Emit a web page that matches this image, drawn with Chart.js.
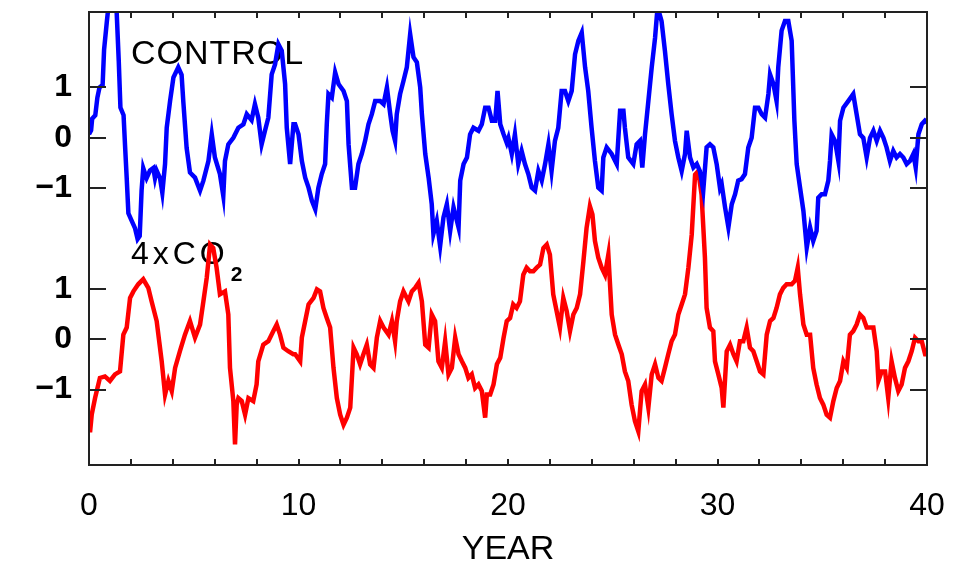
<!DOCTYPE html>
<html>
<head>
<meta charset="utf-8">
<title>CONTROL vs 4xCO2</title>
<script src="https://cdn.jsdelivr.net/npm/chart.js@4.4.1/dist/chart.umd.min.js"></script>
<style>
  html, body { margin: 0; padding: 0; background: #fff; overflow: hidden; }
  #chart { display: block; }
</style>
</head>
<body>
<canvas id="chart" width="967" height="568"></canvas>
<script>
// --- data (years, anomaly) ---
const ctrlYears = [
  0.00, 0.10, 0.15, 0.30, 0.40, 0.50, 0.65, 0.72, 0.85, 0.95, 1.10, 1.30, 1.42, 1.50, 1.65, 1.72, 1.80, 1.88,
  2.04, 2.20, 2.32, 2.42, 2.51, 2.59, 2.75, 2.91, 3.07, 3.15, 3.23, 3.39, 3.50, 3.63, 3.71, 3.87, 4.03, 4.26,
  4.42, 4.50, 4.66, 4.82, 5.06, 5.30, 5.46, 5.70, 5.86, 6.01, 6.25, 6.41, 6.49, 6.65, 6.89, 7.13, 7.37, 7.53,
  7.76, 7.92, 8.08, 8.24, 8.40, 8.56, 8.72, 8.88, 9.04, 9.20, 9.36, 9.44, 9.60, 9.76, 9.84, 10.00, 10.16, 10.32,
  10.48, 10.64, 10.80, 10.95, 11.11, 11.27, 11.35, 11.43, 11.59, 11.75, 11.91, 12.15, 12.31, 12.39, 12.55, 12.70,
  12.86, 13.02, 13.18, 13.34, 13.50, 13.66, 13.90, 14.06, 14.22, 14.38, 14.49, 14.61, 14.69, 14.85, 15.01, 15.17,
  15.33, 15.49, 15.65, 15.81, 15.89, 16.05, 16.21, 16.36, 16.44, 16.60, 16.76, 16.92, 17.08, 17.24, 17.40, 17.64,
  17.72, 17.88, 18.04, 18.19, 18.35, 18.59, 18.75, 18.91, 19.07, 19.23, 19.39, 19.50, 19.63, 19.79, 19.94, 20.02,
  20.18, 20.33, 20.49, 20.65, 20.81, 20.97, 21.13, 21.29, 21.45, 21.61, 21.77, 21.93, 22.08, 22.24, 22.40, 22.56,
  22.72, 22.88, 23.04, 23.20, 23.36, 23.52, 23.68, 23.83, 23.99, 24.15, 24.31, 24.47, 24.55, 24.71, 24.95, 25.19,
  25.35, 25.51, 25.58, 25.74, 25.98, 26.14, 26.30, 26.41, 26.54, 26.70, 26.86, 27.02, 27.14, 27.33, 27.49, 27.65,
  27.81, 27.97, 28.13, 28.29, 28.45, 28.53, 28.69, 28.85, 29.01, 29.16, 29.32, 29.48, 29.64, 29.80, 29.96, 30.12,
  30.20, 30.36, 30.52, 30.68, 30.84, 30.99, 31.15, 31.31, 31.47, 31.63, 31.79, 31.95, 32.11, 32.27, 32.43, 32.51,
  32.67, 32.82, 32.90, 33.06, 33.22, 33.38, 33.54, 33.67, 33.78, 33.94, 34.10, 34.26, 34.42, 34.57, 34.73, 34.81,
  34.97, 35.13, 35.29, 35.37, 35.45, 35.61, 35.77, 35.85, 36.01, 36.24, 36.48, 36.64, 36.80, 36.96, 37.12, 37.28,
  37.44, 37.60, 37.76, 37.92, 38.07, 38.23, 38.39, 38.55, 38.71, 38.87, 39.03, 39.19, 39.35, 39.46, 39.59, 39.75,
  39.90, 40.00
];
const ctrlValues = [
  0.07, 0.15, 0.38, 0.45, 0.80, 1.00, 1.05, 1.75, 2.30, 2.70, 2.80, 2.70, 1.53, 0.60, 0.45, -0.15, -0.80, -1.50,
  -1.65, -1.80, -2.01, -1.95, -1.05, -0.60, -0.80, -0.65, -0.60, -0.80, -0.65, -0.80, -1.09, -0.52, 0.20, 0.73, 1.20, 1.40,
  1.25, 0.73, -0.20, -0.69, -0.79, -1.05, -0.85, -0.46, 0.07, -0.39, -0.72, -1.15, -0.46, -0.13, 0.00, 0.20, 0.27, 0.47,
  0.35, 0.67, 0.40, -0.13, 0.14, 0.40, 1.26, 1.46, 1.86, 1.73, 1.07, 0.20, -0.52, 0.27, 0.27, 0.07, -0.46, -0.79,
  -0.99, -1.25, -1.42, -0.99, -0.72, -0.52, 0.27, 0.87, 0.80, 1.30, 1.07, 0.93, 0.73, -0.13, -0.99, -0.99,
  -0.52, -0.32, -0.06, 0.27, 0.47, 0.73, 0.73, 0.67, 1.00, 0.47, 0.14, -0.06, 0.47, 0.87, 1.13, 1.40,
  2.06, 1.60, 1.50, 1.00, 0.47, -0.32, -0.79, -1.32, -1.91, -1.65, -2.15, -1.58, -1.32, -1.85, -1.38, -1.78,
  -0.85, -0.52, -0.39, 0.07, 0.20, 0.14, 0.27, 0.60, 0.60, 0.34, 0.34, 0.93, 0.27, 0.07, -0.10, 0.00,
  -0.32, 0.07, -0.52, -0.26, -0.52, -0.72, -0.99, -1.05, -0.66, -0.85, -0.52, -0.13, -0.66, -0.06, 0.20, 0.93,
  0.93, 0.73, 0.93, 1.66, 1.93, 2.09, 1.40, 0.93, 0.20, -0.46, -0.99, -1.05, -0.39, -0.19, -0.32, -0.52,
  0.54, 0.54, 0.20, -0.39, -0.52, -0.13, -0.06, -0.59, 0.07, 0.73, 1.40, 1.99, 2.60, 2.32, 1.73, 1.07,
  0.47, -0.06, -0.39, -0.66, -0.32, 0.14, -0.39, -0.59, -0.52, -0.66, -1.05, -0.19, -0.13, -0.19, -0.52, -1.00,
  -0.92, -1.38, -1.78, -1.32, -1.12, -0.85, -0.82, -0.72, -0.19, 0.00, 0.60, 0.60, 0.47, 0.40, 0.87, 1.26,
  1.07, 0.73, 1.40, 2.13, 2.32, 2.32, 1.93, 0.34, -0.52, -0.99, -1.45, -2.18, -1.78, -2.05, -1.85, -1.19,
  -1.12, -1.12, -0.85, -0.46, 0.07, -0.06, -0.46, 0.34, 0.60, 0.73, 0.87, 0.47, 0.07, 0.00, -0.39, 0.00,
  0.14, -0.06, 0.14, 0.00, -0.19, -0.46, -0.26, -0.39, -0.32, -0.39, -0.52, -0.46, -0.32, -0.59, 0.07, 0.27,
  0.34, 0.30
];

const co2Years = [
  0.00, 0.05, 0.13, 0.29, 0.52, 0.76, 1.00, 1.24, 1.48, 1.64, 1.80, 1.96, 2.12, 2.35, 2.59, 2.83, 2.99, 3.23,
  3.47, 3.63, 3.79, 3.95, 4.11, 4.34, 4.58, 4.82, 5.06, 5.30, 5.46, 5.62, 5.78, 5.93, 6.09, 6.25, 6.49, 6.65,
  6.73, 6.89, 6.97, 7.05, 7.13, 7.29, 7.45, 7.61, 7.84, 8.00, 8.08, 8.32, 8.56, 8.80, 8.96, 9.12, 9.28, 9.51,
  9.75, 9.84, 10.08, 10.16, 10.32, 10.48, 10.72, 10.88, 11.03, 11.19, 11.35, 11.51, 11.67, 11.83, 11.99, 12.15,
  12.31, 12.47, 12.63, 12.78, 12.94, 13.10, 13.26, 13.42, 13.58, 13.74, 13.90, 14.06, 14.30, 14.46, 14.61, 14.69,
  14.85, 15.01, 15.25, 15.41, 15.57, 15.73, 15.89, 16.05, 16.21, 16.36, 16.52, 16.68, 16.84, 17.00, 17.16, 17.32,
  17.48, 17.64, 17.80, 17.96, 18.11, 18.27, 18.43, 18.59, 18.75, 18.91, 18.99, 19.15, 19.31, 19.47, 19.63, 19.79,
  19.94, 20.10, 20.25, 20.41, 20.57, 20.73, 20.89, 21.05, 21.21, 21.37, 21.53, 21.69, 21.85, 22.00, 22.16, 22.32,
  22.48, 22.64, 22.80, 22.96, 23.12, 23.28, 23.44, 23.60, 23.75, 23.91, 24.03, 24.15, 24.31, 24.47, 24.63, 24.79,
  24.95, 25.11, 25.27, 25.43, 25.58, 25.74, 25.90, 26.06, 26.22, 26.30, 26.38, 26.54, 26.70, 26.86, 27.02, 27.18,
  27.33, 27.49, 27.65, 27.81, 27.97, 28.13, 28.29, 28.45, 28.61, 28.77, 28.93, 29.08, 29.24, 29.40, 29.48, 29.64,
  29.80, 29.88, 30.04, 30.20, 30.28, 30.44, 30.60, 30.76, 30.91, 31.07, 31.23, 31.39, 31.55, 31.71, 31.87, 32.03,
  32.19, 32.35, 32.51, 32.67, 32.82, 32.98, 33.14, 33.30, 33.54, 33.70, 33.83, 33.94, 34.10, 34.26, 34.42, 34.57,
  34.73, 34.89, 35.05, 35.21, 35.37, 35.53, 35.69, 35.85, 36.01, 36.17, 36.32, 36.48, 36.64, 36.80, 36.96, 37.12,
  37.28, 37.44, 37.60, 37.68, 37.84, 38.00, 38.15, 38.31, 38.47, 38.63, 38.79, 38.95, 39.11, 39.27, 39.43, 39.59,
  39.75, 39.91, 40.00
];
const co2Values = [
  -1.60, -1.85, -1.50, -1.17, -0.77, -0.74, -0.83, -0.70, -0.64, 0.09, 0.23, 0.82, 0.95, 1.09, 1.19, 1.02, 0.75, 0.36,
  -0.44, -1.10, -0.83, -1.03, -0.57, -0.24, 0.09, 0.36, 0.03, 0.29, 0.75, 1.22, 1.88, 1.81, 1.42, 0.89, 0.95, 0.49,
  -0.57, -1.23, -2.09, -1.30, -1.17, -1.23, -1.50, -1.17, -1.23, -0.90, -0.44, -0.11, -0.04, 0.16, 0.29, 0.09, -0.17, -0.24,
  -0.30, -0.30, -0.44, 0.03, 0.36, 0.69, 0.82, 0.99, 0.95, 0.62, 0.42, 0.23, -0.57, -1.17, -1.50, -1.70,
  -1.56, -1.36, -0.17, -0.30, -0.50, -0.30, -0.11, -0.50, -0.57, 0.03, 0.36, 0.23, 0.09, 0.36, -0.04, 0.36,
  0.75, 0.95, 0.75, 0.95, 1.02, 1.12, 0.75, -0.11, -0.17, 0.49, 0.36, -0.44, -0.57, -0.04, -0.70, -0.57,
  0.03, -0.30, -0.44, -0.57, -0.77, -0.70, -0.97, -0.90, -1.03, -1.56, -1.10, -1.10, -0.90, -0.50, -0.37, 0.03,
  0.36, 0.42, 0.69, 0.62, 0.75, 1.28, 1.42, 1.35, 1.35, 1.42, 1.48, 1.81, 1.88, 1.68, 0.89, 0.56,
  0.23, 0.82, 0.56, 0.16, 0.49, 0.62, 0.89, 1.55, 2.21, 2.64, 2.48, 1.95, 1.62, 1.42, 1.28, 1.68,
  0.49, 0.09, -0.11, -0.30, -0.64, -0.83, -1.30, -1.63, -1.83, -1.43, -1.03, -0.90, -1.36, -0.70, -0.50, -0.77,
  -0.83, -0.57, -0.30, -0.04, 0.09, 0.49, 0.69, 0.89, 1.42, 2.08, 3.27, 3.34, 2.87, 1.62, 0.62, 0.23,
  0.16, -0.44, -0.70, -0.97, -1.36, -0.24, -0.11, -0.30, -0.44, -0.04, -0.04, 0.23, -0.17, -0.24, -0.44, -0.64,
  -0.70, 0.09, 0.36, 0.42, 0.62, 0.89, 1.02, 1.09, 1.09, 1.16, 1.42, 0.89, 0.29, 0.09, 0.09, -0.57,
  -0.90, -1.17, -1.30, -1.50, -1.56, -1.23, -0.97, -0.83, -0.44, -0.57, 0.09, 0.16, 0.29, 0.49, 0.42, 0.23,
  0.23, 0.23, -0.24, -0.83, -0.64, -0.64, -1.17, -0.44, -0.77, -1.03, -0.90, -0.57, -0.44, -0.24, 0.03, -0.04,
  -0.04, -0.30, -0.30
];

// axis ticks and labels
const xTickValues = [0, 10, 20, 30, 40];
const xTickLabels = ['0', '10', '20', '30', '40'];
const xMinorStep = 2;
const yTickValues = [-1, 0, 1];
const yTickLabels = ['\u22121', '0', '1'];

// the CONTROL curve sits 4 units above the 4xCO2 curve on one shared axis
const CONTROL_OFFSET = 4;

const FONT = '"Liberation Sans", Arial, Helvetica, sans-serif';

function toPoints(xs, ys, shift) {
  return xs.map((x, i) => ({ x: x, y: ys[i] + shift }));
}

// frame, inward tick marks and the two curve labels
const framePlugin = {
  id: 'frame',
  beforeDatasetsDraw(chart) {
    const { ctx, scales: { x, y } } = chart;
    ctx.save();
    ctx.fillStyle = '#000';
    ctx.textBaseline = 'alphabetic';
    ctx.textAlign = 'left';
    ctx.font = '34px ' + FONT;
    ctx.letterSpacing = '1px';
    ctx.fillText('CONTROL', x.getPixelForValue(2), y.getPixelForValue(5.47));
    const lx = x.getPixelForValue(2);
    const ly = y.getPixelForValue(1.5);
    ctx.font = '32px ' + FONT;
    ctx.letterSpacing = '4px';
    ctx.fillText('4xCO', lx, ly);
    const w = ctx.measureText('4xCO').width;
    ctx.letterSpacing = '0px';
    ctx.font = 'bold 21px ' + FONT;
    ctx.fillText('2', lx + w + 2, ly + 17);
    ctx.restore();
  },
  afterDatasetsDraw(chart) {
    const { ctx, chartArea: a, scales: { x, y } } = chart;
    ctx.save();
    ctx.strokeStyle = '#222';
    ctx.lineWidth = 2;
    ctx.beginPath();
    for (let v = x.min; v <= x.max; v += xMinorStep) {
      const px = Math.round(x.getPixelForValue(v));
      ctx.moveTo(px, a.bottom); ctx.lineTo(px, a.bottom - 6);
      ctx.moveTo(px, a.top); ctx.lineTo(px, a.top + 6);
    }
    y.ticks.forEach(t => {
      const py = Math.round(y.getPixelForValue(t.value));
      ctx.moveTo(a.left, py); ctx.lineTo(a.left + 17, py);
      ctx.moveTo(a.right, py); ctx.lineTo(a.right - 17, py);
    });
    ctx.stroke();
    ctx.strokeRect(a.left, a.top, a.right - a.left, a.bottom - a.top);
    ctx.restore();
  }
};

new Chart(document.getElementById('chart'), {
  type: 'line',
  data: {
    datasets: [{
      label: 'CONTROL',
      data: toPoints(ctrlYears, ctrlValues, CONTROL_OFFSET),
      borderColor: '#0000ff',
      borderWidth: 4.5,
      pointRadius: 0,
      tension: 0,
      clip: 0
    }, {
      label: '4xCO2',
      data: toPoints(co2Years, co2Values, 0),
      borderColor: '#ff0000',
      borderWidth: 4.5,
      pointRadius: 0,
      tension: 0,
      clip: 0
    }]
  },
  options: {
    responsive: false,
    animation: false,
    devicePixelRatio: 1,
    layout: { padding: { top: 12, right: 40, left: 0, bottom: 0 } },
    plugins: {
      legend: { display: false },
      tooltip: { enabled: false }
    },
    scales: {
      x: {
        type: 'linear',
        min: 0,
        max: 40,
        grid: { display: false, drawTicks: false },
        border: { display: false },
        afterBuildTicks: (scale) => { scale.ticks = xTickValues.map(v => ({ value: v })); },
        afterFit: (scale) => {
          scale.height = 103;
          scale.paddingLeft = 0;
          scale.paddingRight = 0;
        },
        ticks: {
          padding: 22,
          color: '#000',
          font: { family: FONT, size: 32 },
          callback: (v) => xTickLabels[xTickValues.indexOf(v)]
        },
        title: {
          display: true,
          text: 'YEAR',
          color: '#000',
          font: { family: FONT, size: 34, lineHeight: 1.1 },
          padding: { top: 0, bottom: 0 }
        }
      },
      y: {
        type: 'linear',
        min: -2.5,
        max: 6.5,
        grid: { display: false, drawTicks: false },
        border: { display: false },
        afterBuildTicks: (scale) => {
          const vals = yTickValues.concat(yTickValues.map(v => v + CONTROL_OFFSET));
          scale.ticks = vals.map(v => ({ value: v }));
        },
        afterFit: (scale) => {
          scale.width = 89;
          scale.paddingTop = 0;
          scale.paddingBottom = 0;
        },
        ticks: {
          padding: 17,
          color: '#000',
          font: { family: FONT, size: 32, weight: 'bold' },
          callback: (v) => {
            const base = v > 2 ? v - CONTROL_OFFSET : v;
            return yTickLabels[yTickValues.indexOf(base)];
          }
        }
      }
    }
  },
  plugins: [framePlugin]
});
</script>
</body>
</html>
